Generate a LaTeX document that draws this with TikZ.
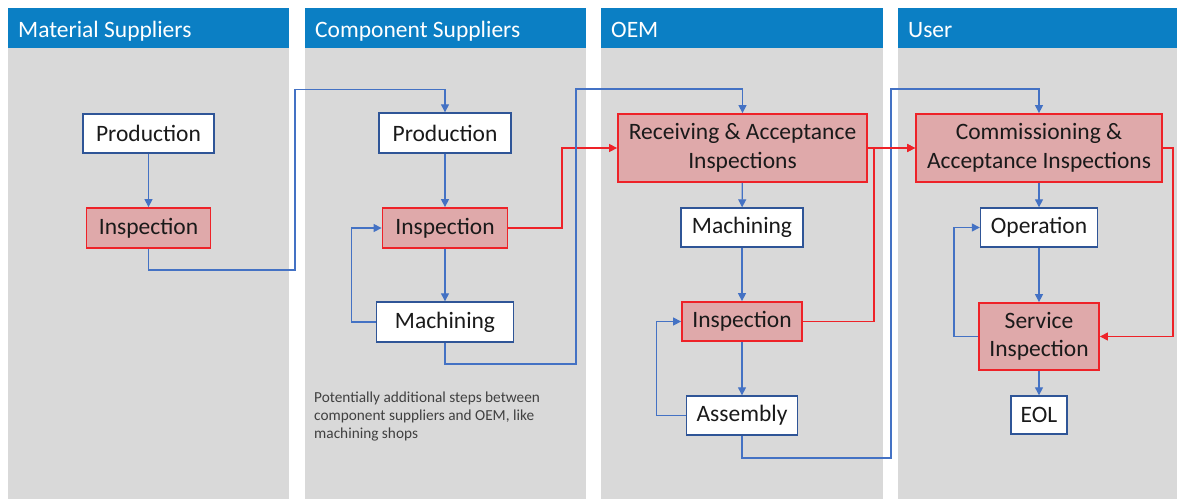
\documentclass[tikz,border=0pt]{standalone}
\usepackage{fontspec}
\setmainfont{Carlito}
\usetikzlibrary{arrows.meta}
\definecolor{hdrblue}{HTML}{0B7FC4}
\definecolor{lanegray}{HTML}{D9D9D9}
\definecolor{boxblue}{HTML}{2F5597}
\definecolor{lineblue}{HTML}{4472C4}
\definecolor{redfill}{HTML}{DFA9AA}
\definecolor{redline}{HTML}{EE2228}
\definecolor{txt}{HTML}{1A1A1A}
\begin{document}
\begin{tikzpicture}[x=1pt,y=-1pt,
  lane/.style={fill=lanegray,draw=none},
  hdr/.style={fill=hdrblue,draw=none},
  hdrtext/.style={anchor=base west,text=white,font=\fontsize{23.5}{27}\selectfont,inner sep=0pt},
  wbox/.style={draw=boxblue,line width=1.4pt,fill=white,inner sep=0pt,text=txt,
    font=\fontsize{23.5}{28.5}\selectfont,align=center},
  rbox/.style={draw=redline,line width=1.8pt,fill=redfill,inner sep=0pt,text=txt,
    font=\fontsize{23.5}{28.5}\selectfont,align=center},
  bl/.style={draw=lineblue,line width=1.3pt},
  rl/.style={draw=redline,line width=1.3pt},
  tip/.style={-{Triangle[length=8pt,width=8pt]}}
]
\useasboundingbox (0,0) rectangle (1177,499);
\fill[white] (0,0) rectangle (1177,499);
% lanes
\fill[lane] (8,48) rectangle (289,499);
\fill[lane] (305,48) rectangle (586,499);
\fill[lane] (601,48) rectangle (883,499);
\fill[lane] (898,48) rectangle (1177,499);
\fill[hdr] (8,8) rectangle (289,48);
\fill[hdr] (305,8) rectangle (586,48);
\fill[hdr] (601,8) rectangle (883,48);
\fill[hdr] (898,8) rectangle (1177,48);
\node[hdrtext] (h1) at (18,37) {Material Suppliers};
\node[hdrtext] (h2) at (315,37) {Component Suppliers};
\node[hdrtext] (h3) at (611,37) {OEM};
\node[hdrtext] (h4) at (908,37) {User};
% column 1
\node[wbox,minimum width=131pt,minimum height=39pt] (p1) at (148.5,133.5) {Production};
\node[rbox,minimum width=124pt,minimum height=40pt] (i1) at (148.5,228) {Inspection};
% column 2
\node[wbox,minimum width=132pt,minimum height=40pt] (p2) at (445,133) {Production};
\node[rbox,minimum width=125pt,minimum height=40pt] (i2) at (445,228) {Inspection};
\node[wbox,minimum width=137pt,minimum height=40pt] (m2) at (445,322) {Machining};
\node[anchor=north west,align=left,inner sep=0pt,text=black!75,
  font=\fontsize{15.3}{17.8}\selectfont] (note) at (314,392)
  {Potentially additional steps between\\component suppliers and OEM, like\\machining shops};
% column 3
\node[rbox,minimum width=249pt,minimum height=68pt] (r3) at (742.5,148) {Receiving \& Acceptance\\Inspections};
\node[wbox,minimum width=122pt,minimum height=39pt] (m3) at (742,227.5) {Machining};
\node[rbox,minimum width=120pt,minimum height=39pt] (i3) at (742,321.5) {Inspection};
\node[wbox,minimum width=111pt,minimum height=39pt] (a3) at (742,415.5) {Assembly};
% column 4
\node[rbox,minimum width=246pt,minimum height=68pt] (c4) at (1039,148) {Commissioning \&\\Acceptance Inspections};
\node[wbox,minimum width=117pt,minimum height=39pt] (o4) at (1039,227.5) {Operation};
\node[rbox,minimum width=120pt,minimum height=67pt] (s4) at (1039,336.5) {Service\\Inspection};
\node[wbox,minimum width=56pt,minimum height=38pt] (e4) at (1039,415) {EOL};
% connectors column 1 -> 2
\draw[bl,tip] (p1) -- (i1);
\draw[bl,tip] (i1.south) |- (295,270) |- ([yshift=23pt]p2.north) -- (p2.north);
% column 2
\draw[bl,tip] (p2) -- (i2);
\draw[bl,tip] (i2) -- (m2);
\draw[bl,tip] (m2.west) -- ++(-24,0) |- (i2.west);
\draw[rl,tip] (i2.east) -| ([xshift=-55pt]r3.west) -- (r3.west);
\draw[bl,tip] (m2.south) |- (576,364) |- ([yshift=24pt]r3.north) -- (r3.north);
% column 3
\draw[bl,tip] (r3) -- (m3);
\draw[bl,tip] (m3) -- (i3);
\draw[bl,tip] (i3) -- (a3);
\draw[bl,tip] (a3.west) -- ++(-29,0) |- (i3.west);
\draw[bl,tip] (a3.south) |- (891,458) |- ([yshift=24pt]c4.north) -- (c4.north);
\draw[rl,tip] (r3.east) -- (c4.west);
\draw[rl,tip] (i3.east) -| ([xshift=-41pt]c4.west) -- (c4.west);
% column 4
\draw[bl,tip] (c4) -- (o4);
\draw[bl,tip] (o4) -- (s4);
\draw[bl,tip] (s4) -- (e4);
\draw[bl,tip] (s4.west) -- ++(-24,0) |- (o4.west);
\draw[rl,tip] (c4.east) -- ++(10,0) |- (s4.east);
\end{tikzpicture}
\end{document}
